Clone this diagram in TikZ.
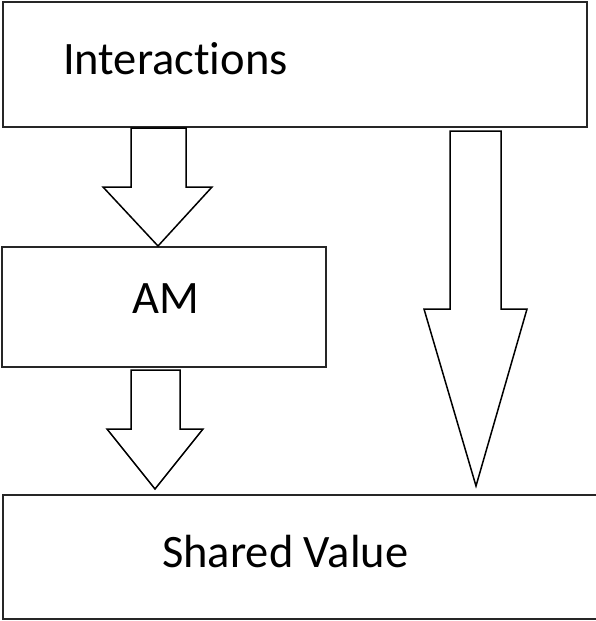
\documentclass[tikz,border=0pt]{standalone}
\usepackage{fontspec}
\setmainfont[Ligatures=NoCommon]{Carlito}
\begin{document}
\begin{tikzpicture}[x=1pt,y=-1pt,
  box/.style={draw=black!85,line width=2pt,fill=white},
  label/.style={font=\fontsize{46.5}{56}\selectfont,inner sep=0pt,anchor=base west},
  blockarrow/.style={draw=black,line width=1.5pt,fill=white,line join=miter}]
\useasboundingbox (0,0) rectangle (596,621);
% boxes
\draw[box] (3,2) rectangle (587,127);
\draw[box] (2,247) rectangle (326,367);
\draw[box] (3,495) rectangle (600,619);
% texts
\node[label] (tInter) at (63,74) {Interactions};
\node[label] (tAM) at (132,313) {AM};
\node[label] (tShared) at (162,567) {Shared Value};
% block arrows
\draw[blockarrow] (131,128) -- (186,128) -- (186,187) -- (212,187) -- (158,246)
  -- (103,187) -- (131,187) -- cycle;
\draw[blockarrow] (450,131) -- (501,131) -- (501,309) -- (527,309) -- (476,486)
  -- (424,309) -- (450,309) -- cycle;
\draw[blockarrow] (131,370) -- (180,370) -- (180,429) -- (203,429) -- (155,489)
  -- (107,429) -- (131,429) -- cycle;
\end{tikzpicture}
\end{document}
